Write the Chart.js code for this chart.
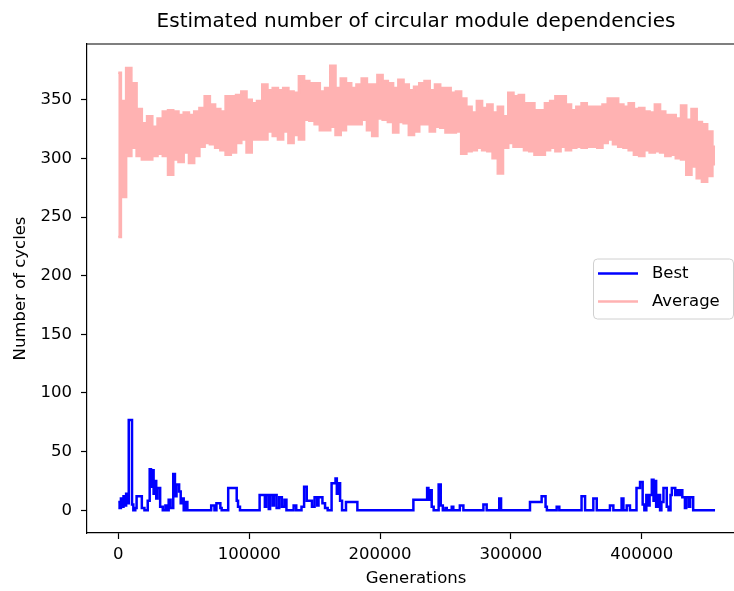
<!DOCTYPE html>
<html>
<head>
<meta charset="utf-8">
<script src="https://cdn.jsdelivr.net/npm/chart.js@4"></script>
<style>
  html, body { margin: 0; padding: 0; overflow: hidden; background: #fff; }
  #wrap { width: 750px; height: 591px; }
</style>
</head>
<body>
<div id="wrap"><canvas id="cycles"></canvas></div>
<script>
// average: upper and lower edge of the noisy band, one pair every 4000 generations
const avgStep = 4000;
const avgHigh = [
  373, 349, 377, 364, 342, 330, 336, 327, 334, 340, 341, 340, 337, 339, 337,
  340, 343, 353, 346, 342, 340, 353, 353, 354, 357, 350, 347, 349, 363, 358,
  360, 358, 360, 357, 356, 370, 366, 364, 364, 357, 360, 379, 360, 368, 364,
  360, 363, 368, 363, 363, 371, 366, 364, 360, 367, 363, 358, 361, 364, 366,
  358, 363, 360, 360, 356, 357, 351, 344, 339, 349, 343, 346, 339, 344, 336,
  356, 353, 354, 347, 347, 341, 341, 347, 349, 353, 353, 346, 341, 344, 347,
  344, 344, 344, 346, 351, 351, 346, 344, 347, 342, 343, 340, 339, 346, 340,
  337, 337, 334, 345, 333, 342, 331, 329, 323, 310
];
const avgLow = [
  233, 267, 302, 309, 302, 299, 299, 302, 304, 302, 286, 299, 297, 305, 296,
  302, 310, 313, 312, 309, 307, 303, 305, 313, 316, 305, 316, 316, 316, 323,
  319, 316, 323, 313, 320, 316, 333, 332, 329, 324, 324, 327, 320, 324, 329,
  329, 329, 333, 324, 319, 334, 333, 331, 322, 331, 330, 320, 323, 329, 329,
  323, 327, 326, 322, 322, 323, 304, 306, 307, 309, 307, 306, 300, 287, 309,
  313, 310, 310, 307, 306, 303, 303, 307, 309, 306, 310, 307, 309, 310, 309,
  310, 310, 309, 313, 316, 312, 310, 309, 307, 303, 302, 307, 305, 306, 305,
  302, 303, 300, 299, 286, 293, 283, 280, 285, 295
];

// best: value holds from this generation until the next one
const bestGen = [
  0, 1000, 2000, 3000, 4000, 5000, 6000, 7000, 8000, 10500, 11500, 13000, 14000, 18000, 20000,
  22500, 24000, 25000, 26000, 27000, 28000, 29000, 30000, 32000, 34000, 36000, 37500, 38500, 40000,
  42000, 43300, 44500, 46500, 47700, 49000, 50000, 51000, 52800, 71000, 73500, 75000, 78000, 79000,
  84000, 90500, 91500, 93000, 108000, 112000, 113000, 115000, 116000, 118000, 119000, 121000,
  123000, 125000, 127000, 128500, 134000, 136000, 140000, 142000, 144000, 148000, 150000, 152000,
  153000, 156000, 158000, 160000, 163000, 166000, 167000, 168000, 169500, 171000, 174000, 182700,
  225500, 236000, 237000, 238000, 239500, 241000, 244800, 246400, 248000, 250000, 251000, 254800,
  256000, 261000, 263700, 279000, 281500, 291100, 292500, 314600, 323500, 326500, 327500, 335000,
  337000, 354000, 356700, 363000, 365600, 375700, 378300, 384600, 386000, 388500, 391000, 396000,
  398700, 400700, 402000, 403500, 405000, 406000, 407700, 409000, 410300, 411000, 412500, 414000,
  415000, 416600, 419100, 420500, 422000, 423000, 425600, 427000, 428500, 430000, 431000, 433000,
  434000, 436000, 437000, 439300, 456000
];
const bestVal = [
  7, 2, 10, 3, 12, 4, 14, 6, 77, 5, 0, 2, 12, 2, 0,
  8, 35, 20, 34, 14, 25, 10, 19, 3, 0, 4, 0, 9, 2,
  31, 12, 22, 16, 6, 10, 0, 7, 0, 4, 0, 6, 2, 0,
  19, 8, 3, 0, 13, 3, 13, 1, 13, 4, 13, 2,
  11, 3, 9, 0, 4, 0, 3, 20, 8, 3, 11, 4,
  11, 6, 2, 0, 23, 27, 14, 23, 8, 0, 7, 0,
  9, 19, 9, 17, 3, 0, 22, 4, 0, 2, 0, 3,
  0, 4, 0, 5, 0, 10, 0, 7, 12, 3, 0, 3,
  0, 12, 0, 10, 0, 4, 0, 10, 0, 4, 0, 19,
  24, 5, 0, 13, 4, 13, 26, 8, 25, 3, 13, 0,
  7, 19, 3, 0, 13, 19, 13, 17, 13, 17, 11, 2,
  11, 3, 11, 0, 0
];

const xTicks = [0, 100000, 200000, 300000, 400000];
const yTicks = [0, 50, 100, 150, 200, 250, 300, 350];

const avgTop = avgHigh.map(function (v, i) { return { x: i * avgStep, y: v }; });
const avgBottom = avgLow.map(function (v, i) { return { x: i * avgStep, y: v }; });
const bestPoints = bestGen.map(function (g, i) {
  return { x: g, y: bestVal[i] };
});

const avgColor = '#ffb2b2';
const tickFont = { family: 'DejaVu Sans', size: 16.5 };

// matplotlib style legend box, centre right inside the axes, plus top spine
const boxLegend = {
  id: 'boxLegend',
  afterDraw(chart) {
    const ctx = chart.ctx;
    const area = chart.chartArea;
    ctx.save();
    ctx.strokeStyle = '#000';
    ctx.lineWidth = 1.2;
    ctx.beginPath();
    ctx.moveTo(area.left, area.top);
    ctx.lineTo(area.right, area.top);
    ctx.stroke();

    const w = 140, h = 60;
    const x = area.right - 12 - w;
    const y = (area.top + area.bottom) / 2 - h / 2;
    ctx.beginPath();
    ctx.roundRect(x + 0.5, y + 0.5, w, h, 4);
    ctx.fillStyle = 'rgba(255,255,255,0.8)';
    ctx.fill();
    ctx.strokeStyle = '#d0d0d0';
    ctx.lineWidth = 1;
    ctx.stroke();
    chart.data.datasets.filter(function (ds) { return ds.label; }).forEach(function (ds, i) {
      const ly = y + 15 + i * 28;
      ctx.beginPath();
      ctx.moveTo(x + 5, ly);
      ctx.lineTo(x + 45, ly);
      ctx.strokeStyle = ds.borderColor;
      ctx.lineWidth = 2.5;
      ctx.stroke();
      ctx.fillStyle = '#000';
      ctx.font = '16.5px "DejaVu Sans"';
      ctx.textBaseline = 'middle';
      ctx.fillText(ds.label, x + 59, ly);
    });
    ctx.restore();
  }
};

new Chart(document.getElementById('cycles'), {
  type: 'line',
  data: {
    datasets: [
      {
        label: 'Best',
        data: bestPoints,
        borderColor: '#0000ff',
        borderWidth: 2.5,
        pointRadius: 0,
        stepped: true
      },
      {
        label: 'Average',
        data: avgTop,
        borderColor: avgColor,
        backgroundColor: avgColor,
        borderWidth: 2.5,
        pointRadius: 0,
        stepped: 'middle',
        fill: '+1'
      },
      {
        label: '',
        data: avgBottom,
        borderColor: avgColor,
        borderWidth: 2.5,
        pointRadius: 0,
        stepped: 'middle'
      }
    ]
  },
  options: {
    animation: false,
    responsive: true,
    maintainAspectRatio: false,
    layout: { padding: { left: 0, right: 5, top: 0, bottom: 0 } },
    plugins: {
      legend: { display: false },
      tooltip: { enabled: false },
      title: {
        display: true,
        text: 'Estimated number of circular module dependencies',
        fullSize: false,
        color: '#000',
        font: { family: 'DejaVu Sans', size: 20, weight: 'normal' },
        padding: { top: 10, bottom: 10 }
      }
    },
    scales: {
      x: {
        type: 'linear',
        min: -23900,
        max: 478900,
        afterBuildTicks: function (scale) {
          scale.ticks = xTicks.map(function (v) { return { value: v }; });
        },
        afterFit: function (scale) { scale.height = 58; },
        grid: { drawOnChartArea: false, tickLength: 6, tickWidth: 1.2, tickColor: '#000' },
        border: { display: true, color: '#000', width: 1.2 },
        ticks: {
          font: tickFont, color: '#000', padding: 6, maxRotation: 0, autoSkip: false,
          callback: function (v) { return String(v); }
        },
        title: {
          display: true, text: 'Generations', color: '#000', font: tickFont,
          padding: { top: 0, bottom: 2 }
        }
      },
      y: {
        min: -19.4,
        max: 397.5,
        afterBuildTicks: function (scale) {
          scale.ticks = yTicks.map(function (v) { return { value: v }; });
        },
        afterFit: function (scale) { scale.width = 87; },
        grid: { drawOnChartArea: false, tickLength: 6, tickWidth: 1.2, tickColor: '#000' },
        border: { display: true, color: '#000', width: 1.2 },
        ticks: { font: tickFont, color: '#000', padding: 9 },
        title: {
          display: true, text: 'Number of cycles', color: '#000', font: tickFont,
          padding: { top: 11, bottom: 0 }
        }
      }
    }
  },
  plugins: [boxLegend]
});
</script>
</body>
</html>
